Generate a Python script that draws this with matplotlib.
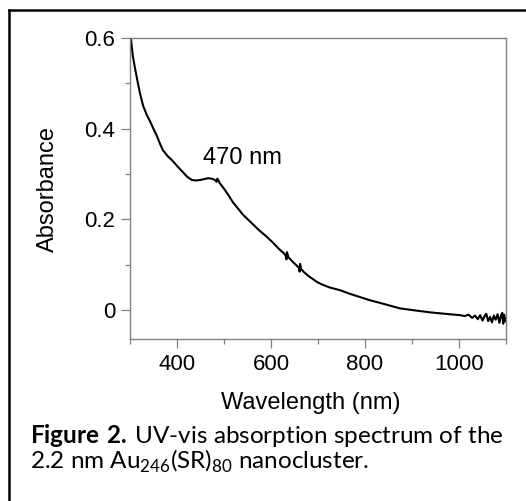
import matplotlib
matplotlib.use("Agg")
import matplotlib.pyplot as plt
from matplotlib.lines import Line2D
from matplotlib.ticker import MultipleLocator

# absorption spectrum (nm, absorbance)
wavelength = [300, 302, 306, 310, 315, 321, 328, 336, 343, 350, 357, 364, 370,
              380, 391, 402, 413, 422, 432, 440, 449, 458, 466, 474, 481, 484,
              486, 491, 500, 510, 519, 530, 540, 551, 562, 575, 591, 605, 619,
              627, 631, 633, 634, 637, 645, 655, 659, 661, 662, 664, 670, 680,
              690, 698, 710, 725, 747, 768, 789, 810, 832, 853, 874, 895, 917,
              940, 960, 980, 1002, 1012, 1020, 1028, 1034, 1040, 1045, 1050,
              1054, 1058, 1062, 1066, 1070, 1074, 1078, 1082, 1086, 1089, 1092,
              1094, 1096, 1098, 1100]
absorbance = [0.610, 0.600, 0.562, 0.538, 0.511, 0.480, 0.451, 0.430, 0.416, 0.400,
              0.385, 0.367, 0.353, 0.340, 0.329, 0.316, 0.304, 0.294, 0.287, 0.286,
              0.287, 0.289, 0.291, 0.290, 0.287, 0.283, 0.290, 0.280, 0.268, 0.253,
              0.238, 0.224, 0.211, 0.200, 0.189, 0.176, 0.162, 0.148, 0.133, 0.126,
              0.121, 0.112, 0.128, 0.117, 0.108, 0.098, 0.094, 0.085, 0.102, 0.091,
              0.084, 0.075, 0.068, 0.062, 0.056, 0.050, 0.044, 0.036, 0.029, 0.022,
              0.016, 0.010, 0.004, 0.001, -0.002, -0.005, -0.007, -0.009, -0.011,
              -0.013, -0.010, -0.017, -0.012, -0.020, -0.011, -0.023, -0.014,
              -0.008, -0.024, -0.015, -0.027, -0.012, -0.021, -0.009, -0.028,
              -0.013, -0.006, -0.030, -0.010, -0.025, -0.018]

peak_label = "470 nm"

plt.rcParams["font.family"] = ["Liberation Sans", "DejaVu Sans"]
plt.rcParams["mathtext.fontset"] = "custom"
plt.rcParams["mathtext.rm"] = "Lato"
plt.rcParams["mathtext.bf"] = "Lato:bold"

fig = plt.figure(figsize=(5.26, 5.01), dpi=100)
ax = fig.add_axes([0.247, 0.323, 0.715, 0.601])

ax.plot(wavelength, absorbance, color="black", lw=1.5)
ax.set_xlim(300, 1100)
ax.set_ylim(-0.064, 0.6)

ax.xaxis.set_major_locator(MultipleLocator(200))
ax.xaxis.set_minor_locator(MultipleLocator(100))
ax.yaxis.set_major_locator(MultipleLocator(0.2))
ax.yaxis.set_minor_locator(MultipleLocator(0.1))
ax.yaxis.set_major_formatter(lambda v, p: "0" if abs(v) < 1e-9 else f"{v:.1f}")

for s in ax.spines.values():
    s.set_color("#808080")
    s.set_linewidth(1.0)
ax.tick_params(which="major", length=6.5, width=0.9, color="#808080",
               labelsize=16, pad=4)
ax.tick_params(which="minor", length=3.5, width=0.9, color="#808080")

ax.set_xlabel("Wavelength (nm)", fontsize=17)
ax.set_ylabel("Absorbance", fontsize=17)
ax.xaxis.set_label_coords(0.481, -0.176)
ax.yaxis.set_label_coords(-0.19, 0.5)

ax.text(540, 0.335, peak_label, fontsize=17, ha="center", va="center")

# caption
fig.text(30 / 526, 1 - 443 / 501,
         r"$\bf{Figure\ 2.\,}$UV-vis absorption spectrum of the",
         fontsize=17.5, family="Lato", ha="left", va="baseline")
fig.text(30 / 526, 1 - 469 / 501,
         r"2.2 nm Au$_{246}$(SR)$_{80}$ nanocluster.",
         fontsize=17.5, family="Lato", ha="left", va="baseline")

# frame around the figure (top and left edges only are visible)
fig.add_artist(Line2D([9 / 526, 1], [1 - 10 / 501] * 2, color="black", lw=1.8))
fig.add_artist(Line2D([9 / 526] * 2, [0, 1 - 10 / 501], color="black", lw=1.8))

fig.savefig("out.png", dpi=100)
